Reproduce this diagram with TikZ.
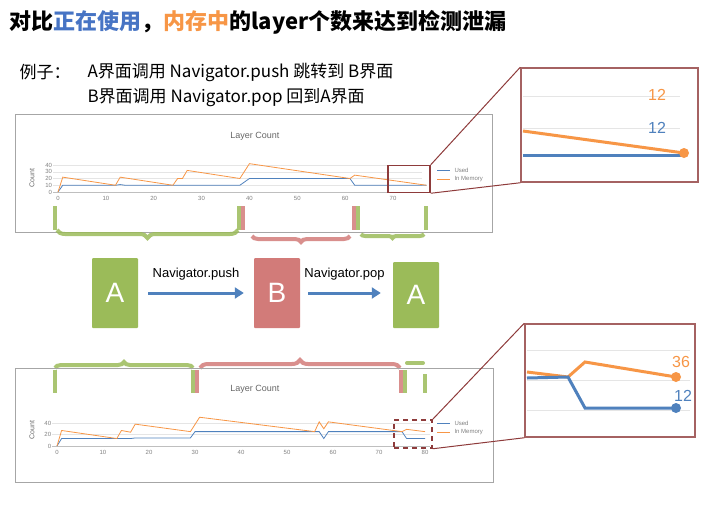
\documentclass[tikz,border=0pt]{standalone}
\usepackage{fontspec}
\setmainfont{Liberation Sans}
\newfontfamily\cjk{Noto Sans CJK SC}
\usetikzlibrary{decorations.pathreplacing, arrows.meta}
\definecolor{okgreen}{HTML}{9BBB59}
\definecolor{leakred}{HTML}{D27B79}
\definecolor{usedblue}{HTML}{4F81BD}
\definecolor{memorange}{HTML}{F79646}
\definecolor{zoomred}{HTML}{8E3B3B}
\tikzset{
  frame/.style={draw=gray!70, line width=0.8pt},
  page/.style={rectangle, minimum width=46pt, minimum height=70pt, text=white, font=\fontsize{28}{28}\selectfont, rounded corners=1pt},
  flow/.style={usedblue, line width=3pt, -{Triangle[length=9pt,width=11pt]}},
  bar/.style={line width=4pt, opacity=0.85},
  curly/.style={line width=4pt, opacity=0.85, decorate, decoration={brace, amplitude=8pt}},
  zoombox/.style={draw=zoomred, line width=1.5pt, inner sep=0pt},
  inset/.style={draw=zoomred!80, line width=1.5pt, inner sep=0pt, fill=white},
  grid/.style={gray!20, line width=0.4pt},
  used/.style={usedblue, line width=0.8pt},
  mem/.style={memorange, line width=0.8pt},
  tick/.style={font=\fontsize{6}{6}\selectfont, text=gray},
  small/.style={font=\fontsize{7}{7}\selectfont, text=gray!80!black},
}
\begin{document}
\begin{tikzpicture}[x=1pt, y=-1pt]
  \useasboundingbox (0,0) rectangle (710,504);
  % title and example
  \node[anchor=west, font=\cjk\bfseries\fontsize{22}{22}\selectfont] (title) at (6,22)
    {对比\textcolor{usedblue!90!blue}{正在使用}，\textcolor{memorange}{内存中}的layer个数来达到检测泄漏};
  \node[anchor=west, font=\cjk\fontsize{17}{17}\selectfont] (eg) at (16,72) {例子：};
  \node[anchor=west, font=\cjk\fontsize{17}{17}\selectfont] (line1) at (84,72) {A界面调用 Navigator.push 跳转到 B界面};
  \node[anchor=west, font=\cjk\fontsize{17}{17}\selectfont] (line2) at (84,98) {B界面调用 Navigator.pop 回到A界面};

  % top chart
  \draw[frame] (15,114) rectangle (492,232);
  \node[small, font=\fontsize{9}{9}\selectfont] (ttitle) at (255,136) {Layer Count};
  \node[small, rotate=90] at (32,178) {Count};
  \begin{scope}[shift={(58,192)}, xscale=4.786, yscale=-0.675]
    \foreach \v in {10,20,30,40} {
      \draw[grid] (-1,\v) -- (76,\v);
      \node[tick, anchor=east] at (-0.5,\v) {\v};
    }
    \node[tick, anchor=east] at (-0.5,0) {0};
    \draw[gray!50] (-1,0) -- (76,0);
    \foreach \t in {0,10,...,70} \node[tick] at (\t,-10) {\t};
    \draw[used] plot coordinates {(0,0) (1,10) (12,10) (13,11) (14,10) (38,10) (40,20) (61,20) (62,10) (77,10)};
    \draw[mem] plot coordinates {(0,0) (1,22) (12,10) (13,22) (24,10) (25,20) (26,20) (27,32) (38,20) (40,42) (61,20) (62,25) (77,10)};
  \end{scope}
  \draw[used] (437,170) -- (450,170);
  \node[tick, anchor=west] at (451,170) {Used};
  \draw[mem] (437,179) -- (450,179);
  \node[tick, anchor=west] at (451,179) {In Memory};
  \node[zoombox, minimum width=42pt, minimum height=27pt] (tzoom) at (409,179) {};
  \node[inset, minimum width=177pt, minimum height=114pt] (tinset) at (609.5,125) {};
  \draw[zoomred, line width=1pt] (tzoom.north east) -- (tinset.north west);
  \draw[zoomred, line width=1pt] (tzoom.south east) -- (tinset.south west);
  \draw[grid, line width=1pt] (523,96) -- (680,96);
  \draw[grid, line width=1pt] (523,128) -- (680,128);
  \node[memorange, font=\fontsize{16}{16}\selectfont] at (657,95) {12};
  \node[usedblue, font=\fontsize{16}{16}\selectfont] at (657,128) {12};
  \draw[usedblue, line width=3pt] (523,155) -- (684,155);
  \draw[memorange, line width=3pt] (523,131) -- (684,153);
  \fill[memorange] (684,153) circle (5pt);

  % braces under top chart
  \draw[bar, okgreen] (55,206) -- (55,230);
  \draw[bar, okgreen] (239,206) -- (239,230);
  \draw[bar, leakred] (243,206) -- (243,230);
  \draw[bar, leakred] (354,206) -- (354,230);
  \draw[bar, okgreen] (358,206) -- (358,230);
  \draw[bar, okgreen] (426,206) -- (426,230);
  \draw[curly, okgreen] (238,230) -- (57,230);
  \draw[curly, leakred, decoration={amplitude=6pt}] (350,236) -- (252,236);
  \draw[curly, okgreen, decoration={amplitude=4pt}] (424,234) -- (361,234);

  % navigation
  \node[page, fill=okgreen] (pageA) at (115,293) {A};
  \node[page, fill=leakred] (pageB) at (277,293) {B};
  \node[page, fill=okgreen, minimum height=66pt] (pageC) at (416,295) {A};
  \draw[flow] ([xshift=10pt]pageA.east) -- ([xshift=-10pt]pageB.west)
    node[midway, above=8pt, black, font=\fontsize{13}{13}\selectfont] {Navigator.push};
  \draw[flow] ([xshift=8pt]pageB.east) -- ([xshift=-12pt]pageB.east -| pageC.west)
    node[midway, above=8pt, black, font=\fontsize{13}{13}\selectfont] {Navigator.pop};

  % braces above bottom chart
  \draw[curly, okgreen, decoration={amplitude=6pt}] (55,368) -- (193,368);
  \draw[curly, leakred] (200,368) -- (400,368);
  \draw[line width=4pt, okgreen, opacity=0.85, line cap=round] (407,363) -- (423,363);

  % bottom chart
  \draw[frame] (15,368) rectangle (493,482);
  \draw[bar, okgreen] (55,370) -- (55,393);
  \draw[bar, okgreen] (193,370) -- (193,393);
  \draw[bar, leakred] (197,370) -- (197,393);
  \draw[bar, leakred] (401,370) -- (401,393);
  \draw[bar, okgreen] (405,370) -- (405,393);
  \draw[bar, okgreen] (425,374) -- (425,393);
  \node[small, font=\fontsize{9}{9}\selectfont] (btitle) at (255,389) {Layer Count};
  \node[small, rotate=90] at (32,430) {Count};
  \begin{scope}[shift={(57,446)}, xscale=4.6, yscale=-0.575]
    \foreach \v in {20,40} {
      \draw[grid] (-1,\v) -- (81,\v);
      \node[tick, anchor=east] at (-0.5,\v) {\v};
    }
    \node[tick, anchor=east] at (-0.5,0) {0};
    \draw[gray!50] (-1,0) -- (81,0);
    \foreach \t in {0,10,...,80} \node[tick] at (\t,-12) {\t};
    \draw[used] plot coordinates {(0,0) (1,13) (16,13) (17,14) (29,14) (30,25) (57,25) (58,13) (59,25) (75,25) (76,13) (80,13)};
    \draw[mem] plot coordinates {(0,0) (1,27) (13,13) (14,27) (16,24) (17,38) (29,25) (31,50) (56,25) (57,42) (58,30) (59,42) (75,25) (76,29) (80,25)};
  \end{scope}
  \draw[used] (437,423) -- (450,423);
  \node[tick, anchor=west] at (451,423) {Used};
  \draw[mem] (437,432) -- (450,432);
  \node[tick, anchor=west] at (451,432) {In Memory};
  \node[zoombox, dashed, dash pattern=on 5pt off 4pt, minimum width=38pt, minimum height=28pt] (bzoom) at (413,434) {};
  \node[inset, minimum width=170pt, minimum height=113pt] (binset) at (610,380.5) {};
  \draw[zoomred, line width=1pt] (bzoom.north east) -- (binset.north west);
  \draw[zoomred, line width=1pt] (bzoom.south east) -- (binset.south west);
  \foreach \g in {350,380,410} \draw[grid, line width=1pt] (527,\g) -- (690,\g);
  \draw[memorange, line width=3pt] (527,372) -- (568,377) -- (585,362) -- (676,377);
  \draw[usedblue, line width=3pt] (527,378) -- (568,377) -- (585,408) -- (676,408);
  \fill[memorange] (676,377) circle (5pt);
  \fill[usedblue] (676,408) circle (5pt);
  \node[memorange, font=\fontsize{16}{16}\selectfont] at (681,362) {36};
  \node[usedblue, font=\fontsize{16}{16}\selectfont] at (683,396) {12};
\end{tikzpicture}
\end{document}
